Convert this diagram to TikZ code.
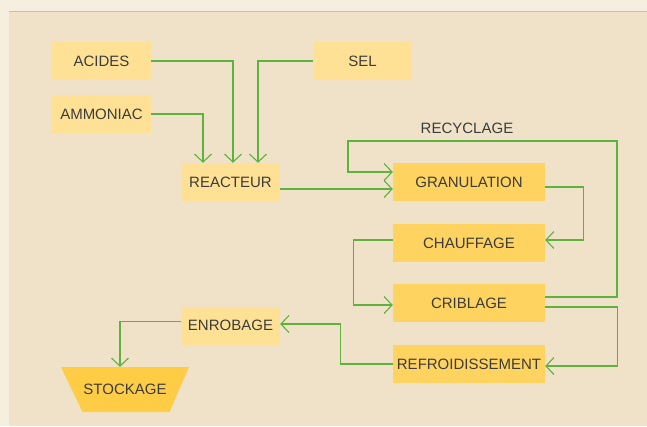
\documentclass[tikz,border=0pt]{standalone}
\usepackage{fontspec}
\setmainfont{Liberation Sans}
\usetikzlibrary{arrows.meta}
\definecolor{outerbg}{HTML}{F6EEDF}
\definecolor{panelbg}{HTML}{F0E2C8}
\definecolor{panelrule}{HTML}{D6BF8A}
\definecolor{lightbox}{HTML}{FEE195}
\definecolor{darkbox}{HTML}{FFD35F}
\definecolor{stockfill}{HTML}{FFCD45}
\definecolor{flowgreen}{HTML}{5DB33B}
\definecolor{labeltext}{HTML}{3C3C3C}

\begin{document}
\begin{tikzpicture}[x=1pt, y=-1pt,
    font=\fontsize{15}{18}\selectfont, text=labeltext,
    inbox/.style={fill=lightbox, minimum width=99pt, minimum height=38pt, inner sep=0pt},
    procbox/.style={fill=darkbox, minimum width=152pt, minimum height=38pt, inner sep=0pt},
    flow/.style={draw=flowgreen, line width=1.2pt,
      -{Straight Barb[length=8pt, width=17pt, line width=1.1pt]}}]
  \tikzset{every node/.style={align=center}}
  % background
  \useasboundingbox (0,0) rectangle (647,426);
  \fill[outerbg] (0,0) rectangle (647,426);
  \fill[panelbg] (9,11) rectangle (647,426);
  \draw[panelrule, line width=1.4pt] (9,11.5) -- (647,11.5);

  % inputs
  \node[inbox] (acides)   at (101.5,61)  {ACIDES};
  \node[inbox] (sel)      at (362.5,61)  {SEL};
  \node[inbox] (ammoniac) at (101.5,114) {AMMONIAC};
  \node[inbox] (reacteur) at (230.5,182) {REACTEUR};

  % process chain
  \node[procbox] (granulation) at (469,182) {GRANULATION};
  \node[procbox] (chauffage)   at (469,243) {CHAUFFAGE};
  \node[procbox] (criblage)    at (469,303) {CRIBLAGE};
  \node[procbox] (refroid)     at (469,364) {REFROIDISSEMENT};
  \node[inbox]   (enrobage)    at (230.5,325.5) {ENROBAGE};

  % storage hopper
  \fill[stockfill] (61,367) -- (189,367) -- (169.5,412) -- (82.5,412) -- cycle;
  \node[minimum width=128pt, minimum height=45pt, inner sep=0pt] (stockage) at (125,389.5) {STOCKAGE};
  \node (recyclage) at (467,128) {RECYCLAGE};

  % feeds to reactor
  \draw[flow] (acides.east) -| ([xshift=2.5pt]reacteur.north);
  \draw[flow] (sel.west) -| ([xshift=27.5pt]reacteur.north);
  \draw[flow] (ammoniac.east) -| ([xshift=-27.5pt]reacteur.north);
  \draw[flow] ([yshift=-7pt]reacteur.east) -- ([yshift=-7pt]granulation.west);

  % recycle loop
  \coordinate (rc1) at (617,141);
  \coordinate (rc2) at (348,141);
  \draw[flow] ([yshift=6pt]criblage.east) -| (rc1) -- (rc2) |- ([yshift=10pt]granulation.west);

  % main line
  \draw[flow] ([yshift=-5pt]granulation.east) -- ++(38,0) |- ([yshift=3pt]chauffage.east);
  \draw[flow] ([yshift=3pt]chauffage.west) -- ++(-39,0) |- ([yshift=-2pt]criblage.west);
  \draw[flow] ([yshift=-4pt]criblage.east) -- ++(72,0) |- ([yshift=-2pt]refroid.east);
  \draw[flow] (refroid.west) -- ++(-52,0) |- ([yshift=1.5pt]enrobage.east);
  \draw[flow] ([yshift=4pt]enrobage.west) -| ([xshift=-5pt]stockage.north);
\end{tikzpicture}
\end{document}
